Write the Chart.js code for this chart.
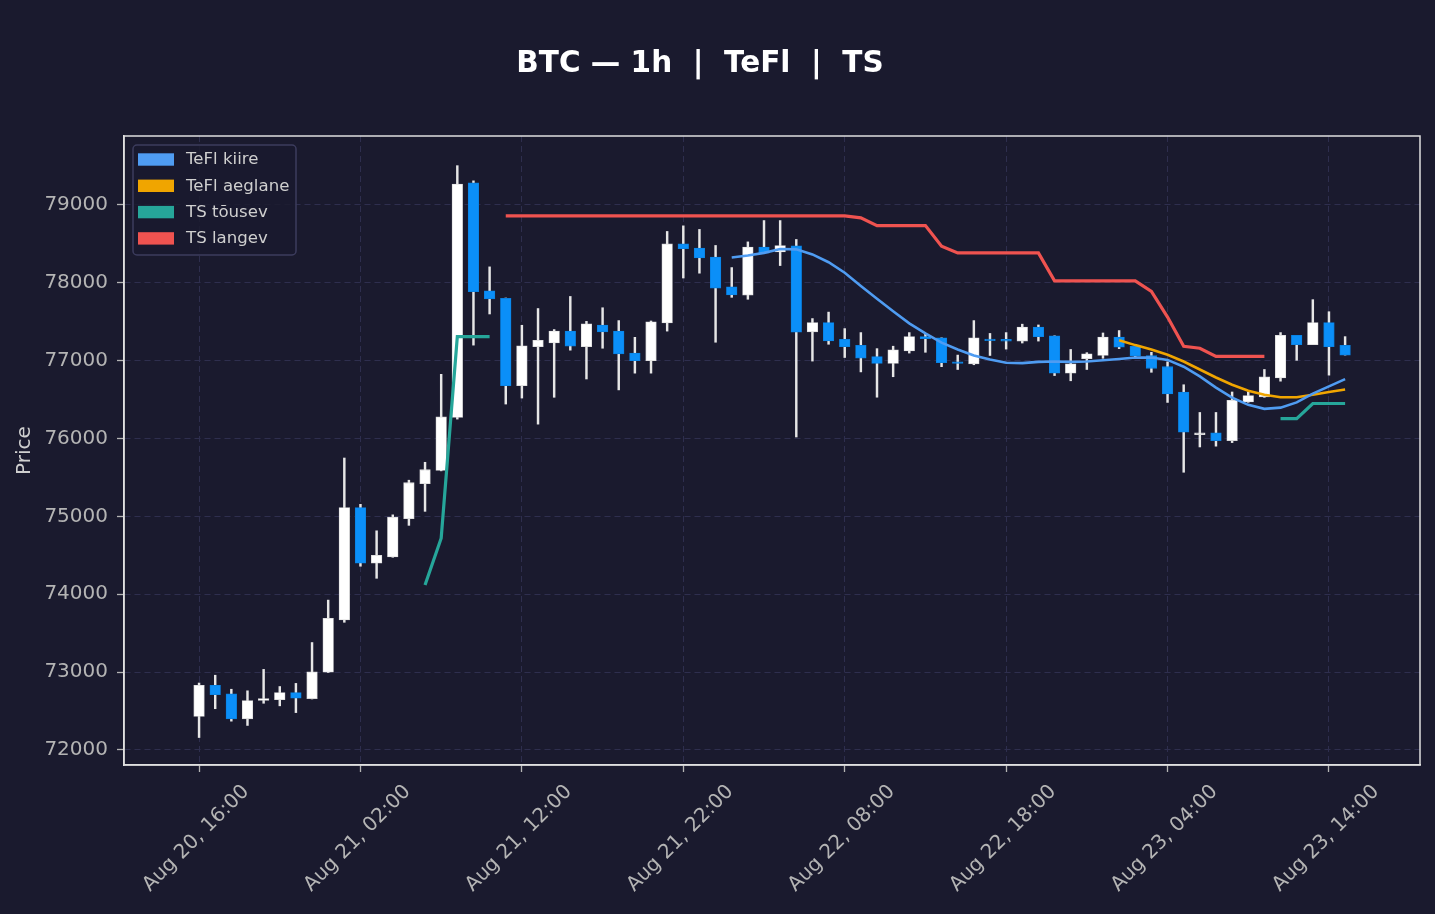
<!DOCTYPE html>
<html>
<head>
<meta charset="utf-8">
<title>BTC — 1h | TeFl | TS</title>
<script src="https://cdn.jsdelivr.net/npm/chart.js@4.4.1/dist/chart.umd.min.js"></script>
<style>
  html, body { margin: 0; padding: 0; background: #1a1a2e; }
  #wrap { width: 1435px; height: 914px; }
</style>
</head>
<body>
<div id="wrap"><canvas id="chart" width="1435" height="914"></canvas></div>
<script>
//hourly candles, Aug 20 16:00 -> Aug 23 15:00
const opens = [72430, 72830, 72720, 72400, 72635, 72645, 72737, 72660, 73000, 73670, 75113, 74400,
  74480, 74970, 75420, 75590, 76270, 79283, 77897, 77800, 76680, 77180, 77227, 77380,
  77180, 77459, 77380, 77098, 77000, 77485, 78500, 78448, 78330, 77948, 77840, 78459,
  78397, 78474, 77371, 77490, 77273, 77196, 77052, 76964, 77124, 77309, 77294, 76985,
  76960, 77278, 77273, 77252, 77433, 77320, 76840, 77026, 77067, 77304, 77185, 77067,
  76923, 76598, 76051, 76072, 75974, 76469, 76536, 76778, 77325, 77206, 77490, 77196];
const highs = [72860, 72960, 72780, 72760, 73035, 72815, 72855, 73380, 73925, 75750, 75155, 74815,
  75020, 75465, 75695, 76825, 79505, 79310, 78205, 77805, 77455, 77670, 77400, 77825,
  77505, 77680, 77515, 77300, 77510, 78660, 78732, 78686, 78480, 78196, 78526, 78800,
  78800, 78557, 77541, 77624, 77412, 77361, 77155, 77186, 77361, 77340, 77294, 77072,
  77515, 77350, 77361, 77469, 77459, 77320, 77144, 77103, 77356, 77387, 77200, 77108,
  76985, 76691, 76335, 76335, 76598, 76598, 76887, 77361, 77325, 77784, 77629, 77309];
const lows = [72160, 72530, 72370, 72315, 72600, 72567, 72480, 72655, 72995, 73640, 74360, 74205,
  74475, 74885, 75065, 75585, 76250, 77200, 77600, 76443, 76520, 76185, 76530, 77135,
  76765, 77160, 76625, 76840, 76840, 77380, 78062, 78124, 77237, 77814, 77789, 78380,
  78222, 76020, 76995, 77211, 77041, 76856, 76531, 76794, 77098, 77108, 76923, 76887,
  76948, 77067, 77149, 77227, 77252, 76809, 76742, 76887, 77031, 77155, 77035, 76851,
  76464, 75567, 75892, 75902, 75948, 76465, 76530, 76737, 77005, 77206, 76814, 77072];
const closes = [72830, 72710, 72400, 72635, 72660, 72737, 72665, 73005, 73690, 75113, 74400, 74500,
  74990, 75433, 75600, 76278, 79268, 77887, 77795, 76680, 77190, 77263, 77380, 77185,
  77474, 77371, 77088, 77000, 77500, 78500, 78438, 78320, 77933, 77845, 78459, 78381,
  78479, 77366, 77490, 77253, 77180, 77031, 76964, 77139, 77309, 77284, 76974, 76964,
  77294, 77258, 77252, 77433, 77309, 76840, 76959, 77088, 77304, 77175, 77062, 76902,
  76572, 76082, 76072, 75974, 76490, 76552, 76794, 77325, 77206, 77490, 77180, 77072];

//TeFl kiire / aeglane
const teFast = [null, null, null, null, null, null, null, null, null, null, null, null,
  null, null, null, null, null, null, null, null, null, null, null, null,
  null, null, null, null, null, null, null, null, null, 78325, 78350, 78385,
  78435, 78430, 78365, 78265, 78130, 77960, 77795, 77634, 77479, 77350, 77232, 77144,
  77067, 77015, 76974, 76969, 76985, 76990, 76985, 76990, 77005, 77021, 77040, 77041,
  77010, 76923, 76799, 76655, 76526, 76433, 76381, 76397, 76464, 76577, 76670, 76763];
const teSlow = [null, null, null, null, null, null, null, null, null, null, null, null,
  null, null, null, null, null, null, null, null, null, null, null, null,
  null, null, null, null, null, null, null, null, null, null, null, null,
  null, null, null, null, null, null, null, null, null, null, null, null,
  null, null, null, null, null, null, null, null, null, 77263, 77200, 77144,
  77077, 76990, 76887, 76784, 76691, 76613, 76562, 76531, 76531, 76562, 76598, 76629];
//TS tõusev / langev
const tsUp = [null, null, null, null, null, null, null, null, null, null, null, null,
  null, null, 74120, 74720, 77310, 77310, 77310, null, null, null, null, null,
  null, null, null, null, null, null, null, null, null, null, null, null,
  null, null, null, null, null, null, null, null, null, null, null, null,
  null, null, null, null, null, null, null, null, null, null, null, null,
  null, null, null, null, null, null, null, 76255, 76255, 76450, 76450, 76450];
const tsDown = [null, null, null, null, null, null, null, null, null, null, null, null,
  null, null, null, null, null, null, null, 78860, 78860, 78860, 78860, 78860,
  78860, 78860, 78860, 78860, 78860, 78860, 78860, 78860, 78860, 78860, 78860, 78860,
  78860, 78860, 78860, 78860, 78860, 78835, 78735, 78735, 78735, 78735, 78470, 78385,
  78385, 78385, 78385, 78385, 78385, 78025, 78025, 78025, 78025, 78025, 78025, 77890,
  77560, 77185, 77160, 77055, 77055, 77055, 77055, null, null, null, null, null];

const xTickPos = [0, 10, 20, 30, 40, 50, 60, 70];
const xTickLabels = ["Aug 20, 16:00", "Aug 21, 02:00", "Aug 21, 12:00", "Aug 21, 22:00",
  "Aug 22, 08:00", "Aug 22, 18:00", "Aug 23, 04:00", "Aug 23, 14:00"];
const yTicks = [72000, 73000, 74000, 75000, 76000, 77000, 78000, 79000];

const BG = "#1a1a2e";
const GRID = "#2e2e4e";
const FRAME = "#e0e0e0";
const TICK_TXT = "#b4b4b4";
const UP = "#ffffff";
const DOWN = "#0b8ff8";

const bodies = opens.map((o, i) => ({ x: i, y: [o, closes[i]] }));
const wicks = opens.map((o, i) => ({ x: i, y: [lows[i], highs[i]] }));
const bodyColors = opens.map((o, i) => (closes[i] >= o ? UP : DOWN));
const bodyEdges = opens.map((o, i) => (closes[i] >= o ? "#d8d8d8" : "#0a80e0"));
const toPts = (arr) => arr.map((v, i) => ({ x: i, y: v }));

//background, frame, legend and title drawn on the canvas
const decor = {
  id: "decor",
  beforeDraw(chart) {
    const ctx = chart.ctx;
    ctx.save();
    ctx.fillStyle = BG;
    ctx.fillRect(0, 0, chart.width, chart.height);
    ctx.restore();
  },
  afterDraw(chart) {
    const ctx = chart.ctx;
    const a = chart.chartArea;
    ctx.save();
    //frame
    ctx.strokeStyle = FRAME;
    ctx.lineWidth = 1.5;
    ctx.strokeRect(a.left, a.top, a.right - a.left, a.bottom - a.top);

    //legend box
    const lines = chart.data.datasets.filter((d) => d.type === "line");
    const bx = a.left + 9, by = a.top + 9, bw = 163, bh = 110;
    ctx.beginPath();
    ctx.roundRect(bx, by, bw, bh, 4);
    ctx.fillStyle = "rgba(26,26,46,0.85)";
    ctx.fill();
    ctx.strokeStyle = "#3c3c5e";
    ctx.lineWidth = 1.5;
    ctx.stroke();
    ctx.font = '16.6px "DejaVu Sans"';
    ctx.textBaseline = "middle";
    ctx.textAlign = "left";
    lines.forEach((d, k) => {
      const yc = by + 14.5 + k * 26.3;
      ctx.fillStyle = d.borderColor;
      ctx.fillRect(bx + 5, yc - 6.2, 36, 12.4);
      ctx.fillStyle = "#cfcfcf";
      ctx.fillText(d.label, bx + 53, yc + 0.5);
    });

    //title
    ctx.fillStyle = "#ffffff";
    ctx.font = 'bold 29.5px "DejaVu Sans"';
    ctx.textAlign = "center";
    ctx.textBaseline = "alphabetic";
    ctx.fillText("BTC — 1h  |  TeFl  |  TS", 700, 72);
    ctx.restore();
  },
};

const lineDs = (label, arr, color, width, order) => ({
  type: "line",
  label: label,
  data: toPts(arr),
  borderColor: color,
  backgroundColor: color,
  borderWidth: width,
  pointRadius: 0,
  tension: 0,
  spanGaps: false,
  order: order,
});

new Chart(document.getElementById("chart"), {
  type: "bar",
  plugins: [decor],
  data: {
    datasets: [
      lineDs("TeFl kiire", teFast, "#4f9cf2", 2.6, 1),
      lineDs("TeFl aeglane", teSlow, "#f0a500", 2.6, 2),
      lineDs("TS tõusev", tsUp, "#26a69a", 3.2, 3),
      lineDs("TS langev", tsDown, "#ef5350", 3.2, 4),
      {
        type: "bar",
        label: "body",
        data: bodies,
        backgroundColor: bodyColors,
        borderColor: bodyEdges,
        borderWidth: 0.8,
        borderSkipped: false,
        barThickness: 10.6,
        grouped: false,
        order: 5,
      },
      {
        type: "bar",
        label: "wick",
        data: wicks,
        backgroundColor: "#e6e6e6",
        barThickness: 1.8,
        grouped: false,
        order: 6,
      },
    ],
  },
  options: {
    responsive: false,
    animation: false,
    layout: { padding: { left: 0, right: 15, top: 136, bottom: 0 } },
    plugins: {
      legend: { display: false },
      title: { display: false },
      tooltip: { enabled: false },
    },
    scales: {
      x: {
        type: "linear",
        offset: false,
        min: -4.65,
        max: 75.64,
        afterBuildTicks: (s) => { s.ticks = xTickPos.map((v) => ({ value: v })); },
        afterFit: (s) => { s.height = 149; },
        grid: { offset: false, color: GRID, lineWidth: 1, tickColor: TICK_TXT, tickLength: 7, tickWidth: 1.3 },
        border: { display: true, color: FRAME, width: 1.5, dash: [6, 4] },
        ticks: {
          autoSkip: false,
          minRotation: 45,
          maxRotation: 45,
          labelOffset: 47,
          padding: 8,
          color: TICK_TXT,
          font: { family: "DejaVu Sans", size: 20 },
          callback: (v, i) => xTickLabels[i],
        },
      },
      y: {
        type: "linear",
        min: 71807,
        max: 79886,
        afterBuildTicks: (s) => { s.ticks = yTicks.map((v) => ({ value: v })); },
        afterFit: (s) => { s.width = 124; },
        grid: { color: GRID, lineWidth: 1, tickColor: TICK_TXT, tickLength: 7, tickWidth: 1.3 },
        border: { display: true, color: FRAME, width: 1.5, dash: [6, 4] },
        ticks: {
          padding: 9,
          color: TICK_TXT,
          font: { family: "DejaVu Sans", size: 20 },
          callback: (v) => String(v),
        },
        title: {
          display: true,
          text: "Price",
          color: "#cfcfcf",
          font: { family: "DejaVu Sans", size: 20 },
          padding: { top: 13, bottom: 0 },
        },
      },
    },
  },
});
</script>
</body>
</html>
